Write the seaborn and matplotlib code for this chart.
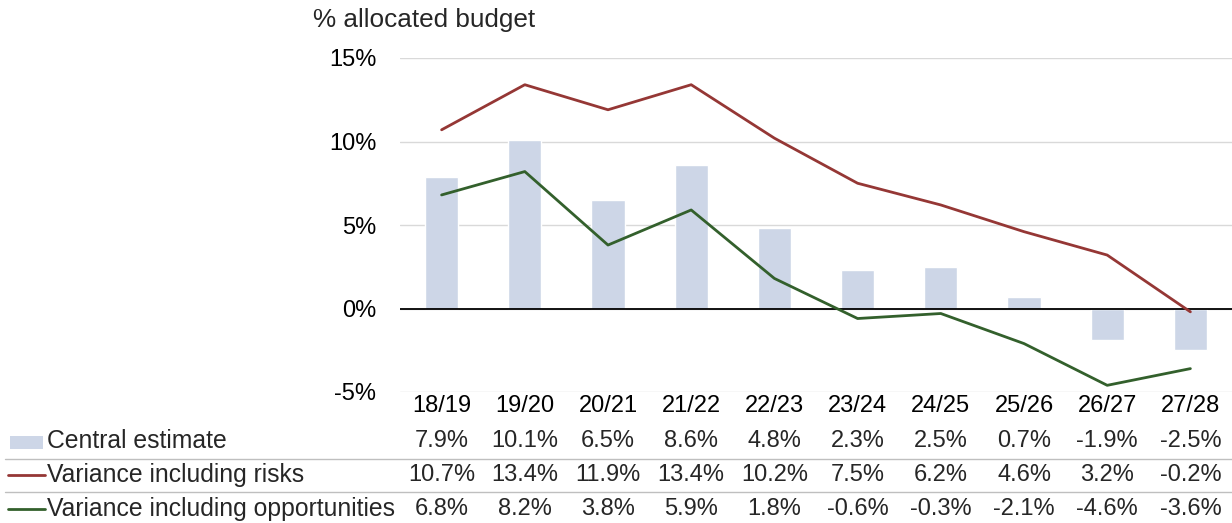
import numpy as np
import pandas as pd
import seaborn as sns
import matplotlib.pyplot as plt
import matplotlib.transforms as mtransforms
from matplotlib.patches import Rectangle
from matplotlib.lines import Line2D
from matplotlib.ticker import FuncFormatter

# data
years = ['18/19', '19/20', '20/21', '21/22', '22/23', '23/24', '24/25', '25/26', '26/27', '27/28']
central = [7.9, 10.1, 6.5, 8.6, 4.8, 2.3, 2.5, 0.7, -1.9, -2.5]
risks = [10.7, 13.4, 11.9, 13.4, 10.2, 7.5, 6.2, 4.6, 3.2, -0.2]
opportunities = [6.8, 8.2, 3.8, 5.9, 1.8, -0.6, -0.3, -2.1, -4.6, -3.6]

bar_col = '#CDD6E7'
red = '#953735'
green = '#33602C'
fs = 17

sns.set_style('white')
plt.rcParams['font.family'] = ['Liberation Sans', 'DejaVu Sans']
plt.rcParams['font.size'] = fs

fig = plt.figure(figsize=(12.32, 5.23), dpi=100)
ax = fig.add_axes([400 / 1232, 1 - 392 / 523, 832 / 1232, (392 - 58) / 523])

df = pd.DataFrame({'year': years, 'central': central, 'risks': risks, 'opp': opportunities})
df['pos'] = np.arange(len(years))

sns.barplot(data=df, x='year', y='central', color=bar_col, saturation=1, width=0.4, ax=ax, zorder=2)
sns.lineplot(data=df, x='pos', y='risks', color=red, linewidth=2, ax=ax, zorder=4)
sns.lineplot(data=df, x='pos', y='opp', color=green, linewidth=2, ax=ax, zorder=4)

ax.set_ylim(-5, 15)
ax.set_xlim(-0.5, len(years) - 0.5)
ax.set_yticks([-5, 0, 5, 10, 15])
ax.yaxis.set_major_formatter(FuncFormatter(lambda v, p: f'{v:.0f}%'))
ax.grid(axis='y', color='#D9D9D9', linewidth=1, zorder=0)
ax.axhline(0, color='black', linewidth=1.3, zorder=3)
for s in ax.spines.values():
    s.set_visible(False)
ax.tick_params(axis='both', length=0, labelsize=fs, colors='black')
ax.tick_params(axis='y', pad=17)
ax.tick_params(axis='x', pad=2)
ax.set_xlabel('')
ax.set_ylabel('')

fig.text(313 / 1232, 1 - 20 / 523, '% allocated budget', fontsize=18.8, va='center', ha='left')

# data table under the axis
trans = mtransforms.blended_transform_factory(ax.transData, fig.transFigure)
rows = [
    ('Central estimate', central, 441),
    ('Variance including risks', risks, 475),
    ('Variance including opportunities', opportunities, 509),
]
for label, vals, ypix in rows:
    yf = 1 - ypix / 523
    fig.text(47 / 1232, yf, label, fontsize=17.8, va='center', ha='left')
    for i, v in enumerate(vals):
        ax.text(i, yf, f'{v:.1f}%', transform=trans, fontsize=fs, va='center', ha='center', clip_on=False)

# legend keys
fig.add_artist(Rectangle((10 / 1232, 1 - 449 / 523), 33 / 1232, 13 / 523, transform=fig.transFigure,
                         facecolor=bar_col, edgecolor='none'))
fig.add_artist(Line2D([8 / 1232, 45 / 1232], [1 - 475 / 523] * 2, transform=fig.transFigure, color=red, linewidth=2))
fig.add_artist(Line2D([8 / 1232, 45 / 1232], [1 - 509 / 523] * 2, transform=fig.transFigure, color=green, linewidth=2))

# row separators
for ypix in [459, 492]:
    fig.add_artist(Line2D([5 / 1232, 1], [1 - ypix / 523] * 2, transform=fig.transFigure,
                          color='#BFBFBF', linewidth=1))

fig.savefig('out.png', dpi=100)
